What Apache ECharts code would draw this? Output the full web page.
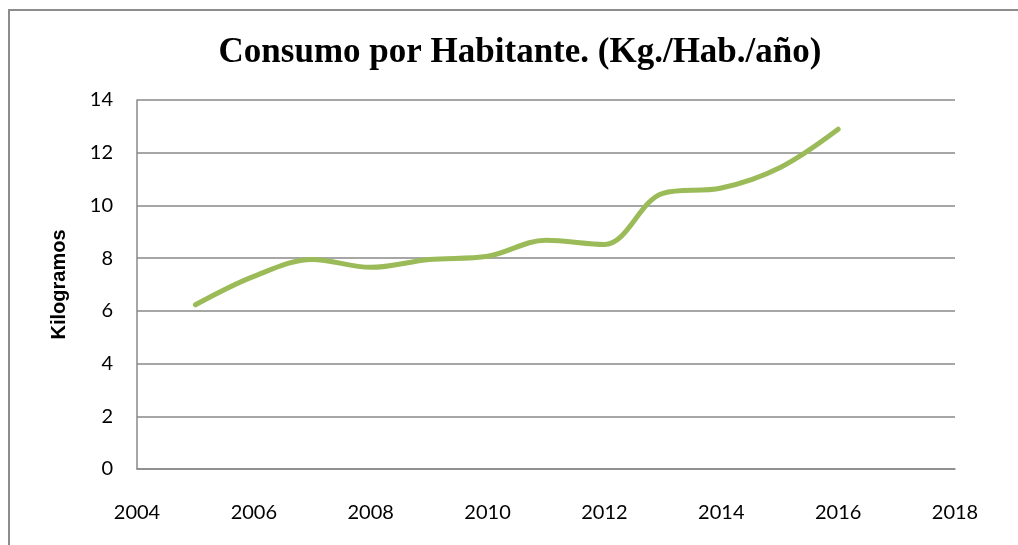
<!DOCTYPE html>
<html>
<head>
<meta charset="utf-8">
<script src="https://cdn.jsdelivr.net/npm/echarts@6/dist/echarts.min.js"></script>
<style>
  html, body { margin: 0; padding: 0; background: #fff; }
  #main { width: 1018px; height: 545px; }
</style>
</head>
<body>
<div id="main"></div>
<script>
var years = [2005, 2006, 2007, 2008, 2009, 2010, 2011, 2012, 2013, 2014, 2015, 2016];
var consumo = [6.23, 7.31, 7.95, 7.65, 7.95, 8.07, 8.68, 8.52, 10.46, 10.66, 11.43, 12.89];
var yTicks = [0, 2, 4, 6, 8, 10, 12, 14];
var xTicks = [2004, 2006, 2008, 2010, 2012, 2014, 2016, 2018];

var chart = echarts.init(document.getElementById("main"));

var option = {
  animation: false,
  title: {
    text: "Consumo por Habitante. (Kg./Hab./año)",
    left: 515,
    top: 30,
    textAlign: "center",
    textStyle: {
      fontFamily: "Liberation Serif",
      fontWeight: "bold",
      fontSize: 35,
      color: "#000"
    }
  },
  graphic: [{
    type: "rect",
    shape: { x: 9, y: 10, width: 1030, height: 560 },
    style: { fill: "none", stroke: "#8c8c8c", lineWidth: 2 }
  }],
  grid: { left: 137, right: 63, top: 100, bottom: 76 },
  xAxis: {
    type: "value",
    min: xTicks[0],
    max: xTicks[xTicks.length - 1],
    interval: 2,
    axisLine: { show: true, lineStyle: { color: "#898989", width: 1.5 } },
    axisTick: { show: false },
    splitLine: { show: false },
    axisLabel: {
      margin: 34,
      fontFamily: "Lato",
      fontSize: 20,
      color: "#000",
      formatter: function (v) { return String(v); }
    }
  },
  yAxis: {
    type: "value",
    min: yTicks[0],
    max: yTicks[yTicks.length - 1],
    interval: 2,
    name: "Kilogramos",
    nameLocation: "middle",
    nameRotate: 90,
    nameGap: 68,
    nameTextStyle: {
      fontFamily: "Liberation Sans",
      fontWeight: "bold",
      fontSize: 20,
      color: "#000"
    },
    axisLine: { show: true, lineStyle: { color: "#898989", width: 1.5 } },
    axisTick: { show: false },
    splitLine: { show: true, lineStyle: { color: "#898989", width: 1.5 } },
    axisLabel: {
      margin: 24,
      fontFamily: "Lato",
      fontSize: 20,
      color: "#000"
    }
  },
  series: [{
    type: "line",
    data: years.map(function (y, i) { return [y, consumo[i]]; }),
    smooth: 0.35,
    symbol: "none",
    lineStyle: { color: "#9BBB59", width: 5, cap: "round" }
  }]
};

chart.setOption(option);
</script>
</body>
</html>
